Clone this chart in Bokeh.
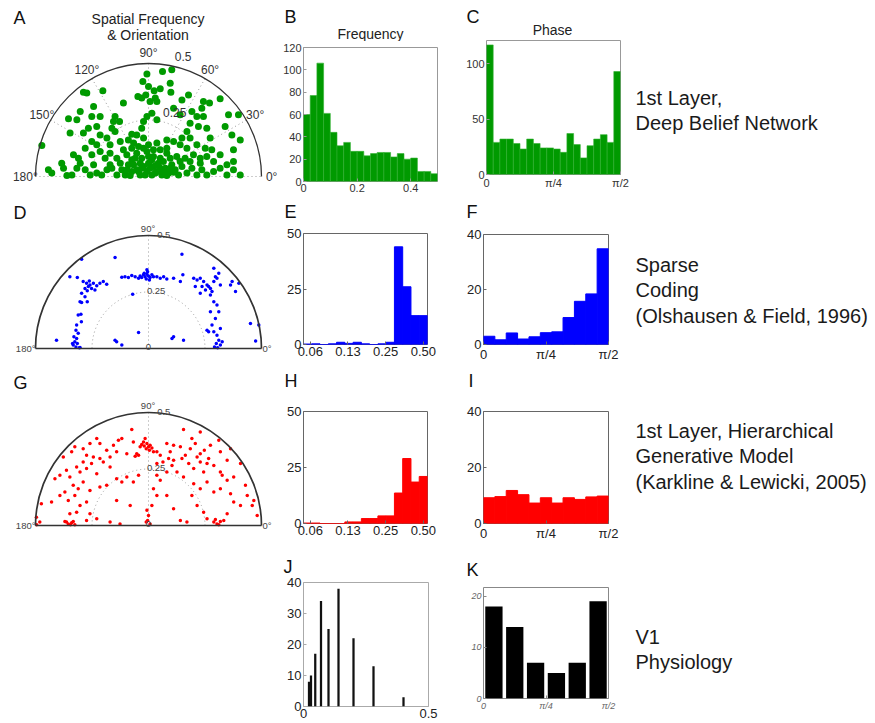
import numpy as np
from bokeh.plotting import figure
from bokeh.models import Range1d, Label, FixedTicker, Spacer
from bokeh.layouts import row, column
from bokeh.embed import file_html
from bokeh.resources import INLINE

FONT = "Liberation Sans"
GREEN = "#009a00"
BLUE = "#0000ff"
RED = "#ff0000"

# ---------------- data ----------------
# Spatial-frequency vectors (fx, fy) of the learned filters, in 1e-3 cycles/pixel
dbn_sf = [(-7,453),(62,465),(103,472),(-25,420),(0,398),(25,379),(-47,354),(-30,347),(-12,361),(7,332),
          (30,347),(37,332),(52,388),(99,373),(96,413),(177,361),(148,339),(243,332),(270,325),(317,344),
          (-288,373),(-273,369),(-202,379),(-243,310),(-302,288),(-251,266),(-354,255),(-317,251),(-214,266),(-111,325),
          (-148,266),(-128,243),(-155,243),(-162,214),(-148,199),(-7,266),(15,280),(37,251),(-22,243),(-30,214),
          (-52,184),(-74,187),(111,302),(140,273),(192,288),(214,266),(236,302),(243,266),(184,236),(221,221),
          (170,199),(258,214),(354,273),(398,273),(339,221),(369,184),(273,170),(-472,137),(-347,192),(-266,214),
          (-229,221),(-288,192),(-214,184),(-184,170),(-251,155),(-229,140),(-170,140),(-125,155),(-89,162),(-66,148),
          (-22,170),(0,140),(37,148),(81,162),(111,155),(148,170),(184,170),(140,140),(170,125),(214,140),
          (251,125),(280,118),(317,96),(376,118),(406,162),(-384,59),(-332,96),(-310,81),(-280,125),(-251,96),
          (-214,111),(-192,81),(-170,103),(-140,81),(-111,118),(-96,96),(-52,103),(-74,74),(-30,81),(-7,111),
          (22,89),(52,81),(81,103),(96,81),(125,89),(162,81),(199,96),(229,81),(258,89),(288,66),
          (347,52),(376,66),(-443,30),(-428,15),(-376,37),(-361,4),(-339,7),(-317,37),(-280,30),(-258,7),
          (-229,15),(-207,7),(-184,30),(-162,37),(-140,7),(-118,30),(-103,7),(-89,52),(-74,22),(-66,52),
          (-52,30),(-37,7),(-22,44),(-7,22),(0,59),(15,7),(22,44),(37,22),(44,59),(59,7),
          (74,37),(89,15),(103,52),(118,30),(133,7),(148,44),(170,15),(192,37),(214,7),(236,30),
          (258,7),(288,22),(317,37),(347,7),(376,30),(406,7),(229,59),(184,66),(140,66),(66,66),
          (-37,59),(-125,59),(-170,52),(-243,52),(-302,59),(-59,81),(-44,22),(-30,37),(-15,7),(7,37),
          (30,15),(52,37),(66,22),(81,4),(96,37),(111,19),(-81,4),(-96,30),(37,52),(15,74),
          (0,89),(-22,125),(-44,133),(22,118),(52,118),(-74,125),(81,125)]

sc_sf = [(-22,326),(-15,318),(-7,329),(0,321),(7,314),(-10,308),(-30,314),(15,326),(-4,340),(-19,333),
         (4,303),(22,318),(-37,321),(-44,311),(37,318),(-59,318),(-74,323),(-89,314),(-104,318),(-118,315),
         (52,311),(67,318),(81,308),(111,311),(141,296),(148,417),(152,326),(-148,403),(-70,240),(-7,348),
         (-289,296),(-274,289),(-266,274),(-259,281),(-281,266),(-252,266),(-271,255),(-244,289),(-229,278),(-215,289),
         (-200,296),(-185,284),(-296,244),(-262,299),(-237,259),(-303,207),(-296,204),(-281,229),(-271,207),(-348,318),
         (-315,314),(-311,148),(-299,151),(-318,104),(-321,81),(-311,67),(-330,52),(-318,44),(-326,30),(-315,22),
         (-333,15),(-321,7),(-306,3),(-336,22),(-297,118),(-303,4),(-407,37),(-296,395),
         (200,311),(215,303),(229,311),(244,296),(259,281),(266,274),(274,266),(252,259),(281,252),(237,274),
         (296,318),(289,355),(311,333),(289,296),(303,311),(318,281),(274,237),(229,244),(207,274),(370,296),
         (400,289),(385,252),(363,281),
         (289,207),(303,192),(274,163),(311,163),(296,133),(281,104),(318,89),(289,74),(303,59),(266,74),
         (311,37),(300,22),(318,15),(306,3),(326,30),(292,7),(259,81),(451,111),(474,33),(488,104),
         (-148,37),(-141,30),(-44,71),(104,44),(111,52),(155,37),(-118,15)]

hgm_sf = [(-30,358),(-19,352),(-7,363),(0,348),(-10,340),(7,355),(-22,370),(15,343),(-37,348),(4,333),
          (-15,385),(22,326),(-52,318),(-44,311),(-59,306),
          (-74,425),(155,425),(192,385),(229,414),(207,363),(247,333),(274,355),(311,377),(363,340),(141,348),
          (163,311),(185,340),(215,303),(111,355),(81,363),(96,326),(52,311),(37,326),(-118,385),(-133,377),
          (-155,355),(-185,333),(-215,363),(-229,385),(-259,363),(-289,340),(-326,348),(-340,326),(-377,303),(-274,311),
          (-244,303),(-215,296),(-170,303),(-141,326),(-96,318),(-67,370),(64,281),(89,296),(37,274),(111,289),
          (148,296),(229,318),(266,296),(318,326),(348,289),
          (-363,244),(-348,215),(-318,259),(-303,237),(-289,281),(-274,252),(-252,274),(-229,229),(-200,281),(-170,259),
          (-141,207),(-118,192),(-96,215),(-67,192),(-44,222),(37,222),(52,200),(81,237),(104,266),(126,237),
          (155,215),(178,274),(200,252),(229,281),(244,237),(259,274),(289,266),(318,237),(326,222),(348,200),
          (377,215),(407,274),(429,178),(-392,222),(-414,207),(-333,178),(-311,163),(-289,192),(-259,155),(-215,170),
          (-185,178),(-370,148),(200,185),(229,163),(259,192),(289,148),(318,163),(363,141),(437,133),(466,111),
          (-392,133),(-429,104),(-355,111),(-326,133),
          (-474,96),(-303,89),(-274,104),(-318,59),(-348,52),(-363,15),(-355,7),(-340,12),(-333,18),(-345,3),
          (-326,3),(-370,18),(-259,52),(-229,30),(-274,22),(-170,15),(-126,7),(-141,111),(-81,89),(-7,67),
          (0,44),(-4,22),(-10,15),(7,7),(15,89),(22,163),(37,133),(81,133),(111,74),(141,22),
          (170,15),(192,133),(215,89),(244,59),(259,30),(289,15),(303,7),(318,18),(311,3),(296,27),
          (333,22),(348,52),(377,104),(407,89),(459,89),(481,44),(-496,37),(-481,15),(-495,3)]

# Histograms of spatial frequency (B) and phase (C), Deep Belief Network
dbn_freq_counts = [60, 77, 106, 61, 44, 32, 35, 27, 27, 23, 25, 26, 26, 22, 25, 20, 21, 9, 9, 7]
dbn_phase_counts = [117, 29, 32, 32, 28, 23, 32, 28, 24, 24, 23, 20, 37, 27, 15, 26, 32, 36, 29, 93]
# Sparse coding (E, F): frequency bins on log2 axis
sc_freq_counts = [0.2, 0.3, 0, 0.3, 1, 0.5, 1, 0.3, 0, 0.3, 1, 44, 26, 13, 13]
sc_phase_counts = [3, 1.7, 4.2, 2, 2.8, 4.3, 4.6, 9.8, 15.7, 18.4, 34.8]
# Hierarchical generative model (H, I)
hgm_freq_counts = [0.2, 0.2, 0, 0, 0, 0.7, 0.7, 2.2, 2.2, 3.4, 3.4, 13.6, 29, 18.5, 21]
hgm_phase_counts = [9.2, 9.6, 11.8, 10.3, 7.3, 9.2, 7.3, 9.2, 8.6, 9.5, 9.8]
# V1 physiology (J, K)
v1_freq = [0.022, 0.030, 0.047, 0.070, 0.100, 0.140, 0.200, 0.280, 0.400]
v1_freq_counts = [8, 10, 17, 34, 25, 38, 22, 13, 3]
v1_phase_counts = [18, 14, 7, 5, 7, 19]

log2_freq_edges = np.linspace(-4.18, -0.89, 16)   # octaves (log2 cycles/pixel)
log2_ticks = [-4, -3, -2, -1]
log2_tick_labels = ["0.06", "0.13", "0.25", "0.50"]
phase_ticks = [0, np.pi / 4, np.pi / 2]

polar_angle_ticks = [0, 30, 60, 90, 120, 150, 180]
polar_radius_ticks = [0.25, 0.5]

row_labels = [["1st Layer,", "Deep Belief Network"],
              ["Sparse", "Coding", "(Olshausen & Field, 1996)"],
              ["1st Layer, Hierarchical", "Generative Model", "(Karkline & Lewicki, 2005)"],
              ["V1", "Physiology"]]

# ---------------- helpers ----------------
S = 226.0   # px per unit frequency in polar plots
CX = 148


def lab(p, x, y, text, size, align="left", color="#111111", style="normal", baseline="middle"):
    p.add_layout(Label(x=x, y=y, text=text, text_align=align, text_baseline=baseline,
                       text_font=FONT, text_font_size=f"{size}px", text_color=color,
                       text_font_style=style))


def blank_fig(w, h, xr, yr):
    p = figure(width=w, height=h, title=None, x_range=Range1d(*xr), y_range=Range1d(*yr),
               min_border=0, min_border_left=0, min_border_right=0, min_border_top=0, min_border_bottom=0,
               x_axis_location=None, y_axis_location=None, frame_align=False,
               output_backend="svg", toolbar_location=None)
    p.grid.visible = False
    p.outline_line_color = None
    return p


def polar_fig(h, cy):
    return blank_fig(280, h, (-CX / S, (280 - CX) / S), (-(h - cy) / S, cy / S))


def polar_px(cy, lx, ly):
    return (lx - CX) / S, (cy - ly) / S


def header(w, h, items):
    p = blank_fig(w, h, (0, w), (h, 0))
    for x, y, text, size, align in items:
        lab(p, x, y, text, size, align, "#111111" if size > 15 else "#222222")
    return p


def hist_fig(width, height, left, right, top, bottom, xr, yr, xticks, xlabels, yticks,
             tsize, tcolor, outline, italic=False):
    p = figure(width=width, height=height, title=None, x_range=Range1d(*xr), y_range=Range1d(*yr),
               min_border_left=left, min_border_right=right, min_border_top=top, min_border_bottom=bottom,
               frame_align=False, output_backend="svg", toolbar_location=None)
    p.grid.visible = False
    p.outline_line_color = outline
    p.outline_line_width = 1
    for ax in (p.xaxis[0], p.yaxis[0]):
        ax.axis_line_color = None
        ax.major_tick_in = 3
        ax.major_tick_out = 0
        ax.major_tick_line_color = outline
        ax.minor_tick_line_color = None
        ax.major_label_text_font = FONT
        ax.major_label_text_font_size = f"{tsize}px"
        ax.major_label_text_color = tcolor
        ax.major_label_standoff = 2
        if italic:
            ax.major_label_text_font_style = "italic"
    p.xaxis.ticker = FixedTicker(ticks=list(xticks))
    p.xaxis.major_label_overrides = {t: l for t, l in zip(xticks, xlabels)}
    p.yaxis.ticker = FixedTicker(ticks=list(yticks))
    return p


def polar_panel(p, sf, color, size, style, cy, letter, title=None):
    fx = np.array([a for a, b in sf]) / 1000.0
    fy = np.array([b for a, b in sf]) / 1000.0
    th = np.radians(polar_angle_ticks)
    dot = "#9a9a9a"
    if style == "A":
        inner = [a for a in polar_angle_ticks if 0 < a < 180]
        ti = np.radians(inner)
        p.segment(x0=0, y0=0, x1=list(0.5 * np.cos(ti)), y1=list(0.5 * np.sin(ti)),
                  line_color=dot, line_dash="1 3", line_width=1)
        p.segment(x0=[-0.5], y0=[0], x1=[0.5], y1=[0], line_color=dot, line_dash="1 3", line_width=1)
    else:
        p.segment(x0=[0], y0=[0], x1=[0], y1=[0.5], line_color=dot, line_dash="1 3", line_width=1)
    p.arc(x=[0], y=[0], radius=polar_radius_ticks[0], start_angle=0, end_angle=np.pi,
          line_color=dot, line_dash="1 3", line_width=1)
    p.scatter(fx, fy, size=size, color=color, line_color=None)
    p.arc(x=[0], y=[0], radius=polar_radius_ticks[1], start_angle=0, end_angle=np.pi,
          line_color="#333333", line_width=1.3 if style == "A" else 1.7)
    if style != "A":
        p.segment(x0=[-0.5], y0=[0], x1=[0.5], y1=[0], line_color="#333333", line_width=1.7)

    if style == "A":
        for a, t in zip(polar_angle_ticks, th):
            lab(p, 0.545 * np.cos(t), 0.545 * np.sin(t), f"{a}°", 12, "center", "#333333")
        for r in polar_radius_ticks:
            lab(p, r * np.sin(np.radians(12)) + 0.012, r * np.cos(np.radians(12)) + 0.04,
                f"{r:g}", 12, "left", "#333333")
    else:
        lab(p, -0.002, 0.53, "90°", 9.5, "center", "#444444")
        lab(p, -0.5, 0.0, "180°", 9.5, "right", "#444444")
        lab(p, 0.504, 0.0, "0°", 9.5, "left", "#444444")
        lab(p, 0.0, 0.006, "0", 9.5, "center", "#444444")
        for r in polar_radius_ticks:
            lab(p, 0.135 * r, r + 0.004, f"{r:g}", 9.5, "center", "#444444")
    x, y = polar_px(cy, 13, 17 if style == "A" else 12)
    lab(p, x, y, letter, 18, "left", "#111111")
    if title:
        for i, t in enumerate(title):
            x, y = polar_px(cy, 147.5, 18 + 16 * i)
            lab(p, x, y, t, 14, "center", "#222222")


# ---------------- row 1 ----------------
pA = polar_fig(200, 176)
polar_panel(pA, dbn_sf, GREEN, 7, "A", 176, "A", ["Spatial Frequency", "& Orientation"])

hB = header(175, 41, [(4, 16, "B", 18, "left"), (90, 33, "Frequency", 14, "center")])
pB = hist_fig(175, 159, 23, 18, 6, 19, (0, 0.5), (0, 120), [0, 0.2, 0.4], ["0", "0.2", "0.4"],
              range(0, 121, 20), 11, "#333333", "#999999")
be = np.linspace(0, 0.5, len(dbn_freq_counts) + 1)
pB.quad(left=be[:-1], right=be[1:], bottom=0, top=dbn_freq_counts, fill_color=GREEN,
        line_color="#30b030", line_width=0.6)

hC = header(177, 38, [(11, 16, "C", 18, "left"), (97, 29, "Phase", 14, "center")])
pC = hist_fig(177, 162, 31, 12, 2, 26, (0, np.pi / 2), (0, 121), phase_ticks, ["0", "π/4", "π/2"],
              [0, 50, 100], 11, "#333333", "#999999")
ce = np.linspace(0, np.pi / 2, len(dbn_phase_counts) + 1)
pC.quad(left=ce[:-1], right=ce[1:], bottom=0, top=dbn_phase_counts, fill_color=GREEN,
        line_color="#30b030", line_width=0.6)

# ---------------- row 2 ----------------
pD = polar_fig(170, 148)
polar_panel(pD, sc_sf, BLUE, 3.5, "D", 148, "D")

hE = header(175, 22, [(4, 11, "E", 18, "left")])
pE = hist_fig(175, 148, 23, 28, 11, 26, (-4.18, -0.89), (0, 50), log2_ticks, log2_tick_labels,
              [0, 25, 50], 13, "#222222", "#666666")
pE.quad(left=log2_freq_edges[:-1], right=log2_freq_edges[1:], bottom=0, top=sc_freq_counts,
        fill_color=BLUE, line_color=BLUE)

hF = header(177, 22, [(11, 11, "F", 18, "left")])
pF = hist_fig(177, 148, 28, 24, 12, 26, (0, np.pi / 2), (0, 40), phase_ticks, ["0", "π/4", "π/2"],
              [0, 20, 40], 13, "#222222", "#666666")
fe = np.linspace(0, np.pi / 2, len(sc_phase_counts) + 1)
pF.quad(left=fe[:-1], right=fe[1:], bottom=0, top=sc_phase_counts, fill_color=BLUE, line_color=BLUE)

# ---------------- row 3 ----------------
pG = polar_fig(175, 155)
polar_panel(pG, hgm_sf, RED, 3.5, "G", 155, "G")

hH = header(175, 22, [(4, 10, "H", 18, "left")])
pH = hist_fig(175, 153, 23, 28, 19, 22, (-4.18, -0.89), (0, 50), log2_ticks, log2_tick_labels,
              [0, 25, 50], 13, "#222222", "#666666")
pH.quad(left=log2_freq_edges[:-1], right=log2_freq_edges[1:], bottom=0, top=hgm_freq_counts,
        fill_color=RED, line_color=RED)

hI = header(177, 22, [(13, 10, "I", 18, "left")])
pI = hist_fig(177, 153, 28, 24, 19, 22, (0, np.pi / 2), (0, 40), phase_ticks, ["0", "π/4", "π/2"],
              [0, 20, 40], 13, "#222222", "#666666")
ie = np.linspace(0, np.pi / 2, len(hgm_phase_counts) + 1)
pI.quad(left=ie[:-1], right=ie[1:], bottom=0, top=hgm_phase_counts, fill_color=RED, line_color=RED)

# ---------------- row 4 ----------------
hJ = header(175, 30, [(3, 21, "J", 18, "left")])
pJ = hist_fig(175, 148, 23, 27, 7, 17, (0, 0.5), (0, 40), [0, 0.5], ["0", "0.5"],
              [0, 10, 20, 30, 40], 13, "#222222", "#aaaaaa")
pJ.vbar(x=v1_freq, width=0.009, top=v1_freq_counts, bottom=0, fill_color="#111111", line_color=None)

hK = header(177, 34, [(11, 24, "K", 18, "left")])
pK = hist_fig(177, 144, 28, 24, 8, 25, (0, np.pi / 2), (0, 21.7), phase_ticks, ["0", "π/4", "π/2"],
              [0, 10, 20], 9, "#666666", "#888888", italic=True)
kb = np.pi / 2 / len(v1_phase_counts)
pK.vbar(x=(np.arange(len(v1_phase_counts)) + 0.5) * kb, width=0.83 * kb, top=v1_phase_counts,
        bottom=0, fill_color="#000000", line_color=None)

# ---------------- right-hand labels ----------------
tf = blank_fig(243, 723, (0, 243), (723, 0))
first_line_y = [97, 264, 430, 636]
for lines, y0 in zip(row_labels, first_line_y):
    for i, t in enumerate(lines):
        lab(tf, 3, y0 + 25.7 * i, t, 20, "left", "#1a1a1a")

left = column(row(pA, column(hB, pB), column(hC, pC)),
              row(pD, column(hE, pE), column(hF, pF)),
              row(pG, column(hH, pH), column(hI, pI)),
              row(Spacer(width=280, height=178), column(hJ, pJ), column(hK, pK)))
page = row(left, tf)

open("out.html", "w").write(file_html(page, INLINE))
